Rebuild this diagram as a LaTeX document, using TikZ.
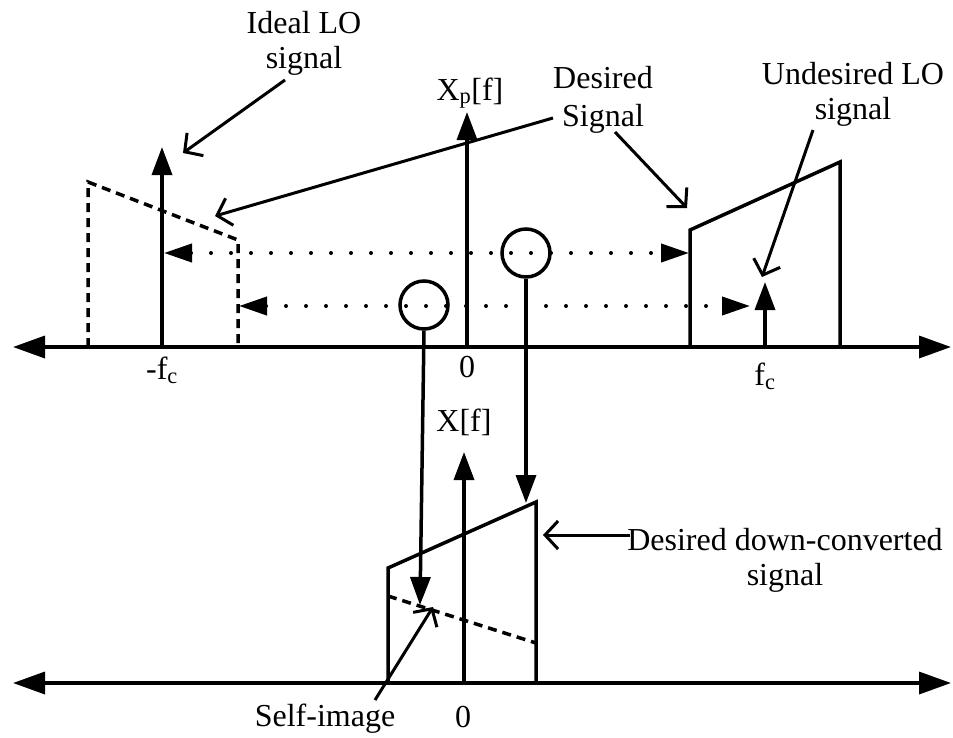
\documentclass[tikz,border=0pt]{standalone}
\usepackage{fontspec}
\setmainfont{Liberation Serif}
\usetikzlibrary{arrows.meta}

\begin{document}
\begin{tikzpicture}[x=1pt,y=-1pt,line width=3.5pt,
    lbl/.style={font=\fontsize{32}{35}\selectfont,align=center,inner sep=0pt},
    tri/.style={-{Triangle[length=28pt,width=20pt]}},
    axis/.style={{Triangle[length=32pt,width=22pt]}-{Triangle[length=32pt,width=22pt]}},
    dots/.style={line width=4pt,line cap=round,dash pattern=on 0pt off 20pt,
        {Triangle[length=28pt,width=18pt]}-{Triangle[length=28pt,width=18pt]}},
    dashline/.style={dash pattern=on 9pt off 6pt},
    pointer/.style={line width=3pt,-{Straight Barb[length=13pt,width=28pt]}},
    ring/.style={circle,draw,minimum size=48pt,inner sep=0pt}]
    \useasboundingbox (0,0) rectangle (953,737);
    % upper spectrum
    \coordinate (axL) at (13,347);
    \coordinate (axR) at (951,347);
    \draw[axis] (axL) -- (axR);
    \coordinate (fcmB) at (162,347);
    \coordinate (fcmT) at (162,147);
    \draw[tri] (fcmB) -- (fcmT);
    \coordinate (zB) at (467,347);
    \coordinate (zT) at (467,112);
    \draw[tri] (zB) -- (zT);
    \coordinate (fcpB) at (765,347);
    \coordinate (fcpT) at (765,282);
    \draw[tri] (fcpB) -- (fcpT);
    \draw[dashline] (88,347) -- (88,182) -- (238,240) -- (238,347);
    \draw (690,347) -- (690,230) -- (840,162) -- (840,347);
    \coordinate (d1L) at (164,253);
    \coordinate (d1R) at (689,253);
    \coordinate (d2L) at (239,306);
    \coordinate (d2R) at (750,306);
    \draw[dots] (d1L) -- (d1R);
    \draw[dots] (d2L) -- (d2R);
    \node[lbl] (xp) at (470,93) {X\textsubscript{p}[f]};
    \node[lbl] (zero1) at (467,367) {0};
    \node[lbl] (fcm) at (162,370) {-f\textsubscript{c}};
    \node[lbl] (fcp) at (765,376) {f\textsubscript{c}};
    % circled images
    \node[ring] (c1) at (424,305) {};
    \node[ring] (c2) at (526,253) {};
    \coordinate (c1E) at (420,605);
    \coordinate (c2E) at (526,503);
    \draw[tri] (c1.south) -- (c1E);
    \draw[tri] (c2.south) -- (c2E);
    % lower spectrum
    \coordinate (bxL) at (13,683);
    \coordinate (bxR) at (951,683);
    \draw[axis] (bxL) -- (bxR);
    \coordinate (xB) at (464,683);
    \coordinate (xT) at (464,452);
    \draw[tri] (xB) -- (xT);
    \draw (388,683) -- (388,568) -- (536,502) -- (536,683);
    \draw[dashline] (388,596) -- (536,643);
    \node[lbl] (xf) at (464,422) {X[f]};
    \node[lbl] (zero2) at (463,717) {0};
    % labels and pointers
    \node[lbl] (ideal) at (304,43) {Ideal LO\\signal};
    \node[lbl,font=\fontsize{32}{38}\selectfont] (des) at (603,100) {Desired\\Signal};
    \node[lbl] (undes) at (853,94) {Undesired LO\\signal};
    \node[lbl] (ddc) at (785,560) {Desired down-converted\\signal};
    \node[lbl] (self) at (325,719) {Self-image};
    \coordinate (p1) at (183,153);
    \coordinate (p2) at (215,216);
    \coordinate (p3) at (687,208);
    \coordinate (p4) at (762,277);
    \coordinate (p5) at (543,535);
    \coordinate (p6) at (433,607);
    \draw[pointer] (285,80) -- (p1);
    \draw[pointer] (553,118) -- (p2);
    \draw[pointer] (615,132) -- (p3);
    \draw[pointer] (813,130) -- (p4);
    \draw[pointer] (630,535) -- (p5);
    \draw[pointer] (375,700) -- (p6);
\end{tikzpicture}
\end{document}
